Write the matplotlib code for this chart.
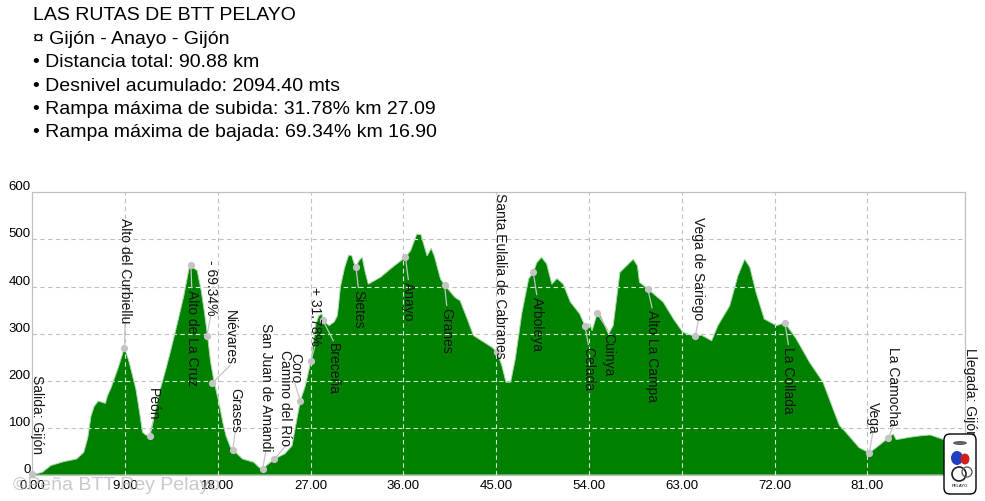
import matplotlib
matplotlib.use("Agg")
import matplotlib.pyplot as plt
from matplotlib.patches import Polygon, FancyBboxPatch, Circle, Ellipse

plt.rcParams['font.family'] = ['Liberation Sans', 'DejaVu Sans']

# ---------------- data ----------------
km = [0.0, 0.5, 1.0, 1.8, 3.0, 4.3, 5.0, 5.4, 5.7, 6.0, 6.4, 7.1, 7.3, 7.65, 8.3, 8.95,
      9.4, 10.06, 10.4, 10.7, 11.0, 11.4, 11.84, 12.4, 12.97, 13.5, 14.1, 14.7, 15.2,
      15.42, 15.6, 16.0, 16.4, 16.7, 17.0, 17.3, 17.65, 18.1, 18.5, 18.8, 19.2, 19.45,
      20.4, 21.5, 22.0, 22.35, 23.0, 23.5, 24.5, 25.2, 25.6, 26.0, 26.5, 27.05, 27.5,
      27.8, 28.1, 28.2, 28.8, 29.3, 29.6, 29.9, 30.3, 30.7, 31.0, 31.2, 31.4, 31.7,
      32.0, 32.3, 32.6, 33.0, 33.8, 35.0, 36.2, 36.7, 37.3, 37.7, 38.3, 38.7, 39.0,
      39.6, 40.0, 41.0, 41.5, 42.2, 42.8, 43.8, 44.6, 45.1, 45.55, 45.95, 46.4, 46.85,
      47.5, 48.15, 48.6, 48.95, 49.4, 49.9, 50.4, 50.9, 51.5, 52.2, 53.1, 53.6, 54.1,
      54.3, 54.8, 55.1, 55.9, 56.35, 57.0, 57.65, 58.3, 58.7, 58.9, 59.7, 60.5, 61.2,
      62.2, 63.1, 64.3, 64.9, 65.9, 66.5, 67.65, 68.45, 69.1, 69.6, 70.2, 71.0, 72.2,
      73.0, 74.1, 75.4, 76.7, 77.8, 78.3, 78.9, 80.2, 81.2, 82.2, 83.0, 83.5, 83.8,
      85.1, 86.1, 87.1, 88.3, 89.0, 89.8, 90.5]
elev = [3, 3, 6, 20, 28, 34, 48, 80, 125, 145, 157, 152, 168, 185, 225, 270,
        240, 182, 135, 91, 85, 83, 126, 180, 225, 270, 324, 380, 437,
        446, 440, 434, 390, 346, 296, 240, 197, 155, 110, 83, 60, 54,
        34, 27, 16, 13, 25, 34, 45, 62, 110, 157, 190, 243, 320,
        338, 342, 328, 317, 325, 338, 400, 440, 467, 465, 450, 441, 455,
        462, 430, 405, 410, 420, 442, 462, 476, 511, 510, 465, 481, 465,
        416, 403, 377, 370, 331, 296, 282, 271, 260, 232, 197, 197, 246,
        345, 416, 430, 451, 462, 448, 405, 417, 405, 367, 342, 317, 320,
        306, 343, 339, 299, 317, 430, 444, 458, 444, 409, 395, 380, 367,
        331, 303, 294, 297, 285, 317, 359, 423, 458, 441, 388, 331, 317,
        323, 289, 239, 197, 133, 105, 91, 58, 47, 64, 78, 87, 75,
        80, 83, 85, 76, 65, 40, 15]

wp_names = ["Salida: Gijón", "Alto del Curbiellu", "Peón", "Alto de La Cruz", "- 69.34%",
            "Niévares", "Grases", "San Juan de Amandi", "Camino del Río", "Coro",
            "+ 31.78%", "Breceña", "Sietes", "Anayo", "Granes",
            "Santa Eulalia de Cabranes", "Arboleya", "Celada", "Cuinya", "Alto La Campa",
            "Vega de Sariego", "La Collada", "Vega", "La Camocha", "Llegada: Gijón"]
wp_km = [0.0, 8.95, 11.4, 15.4, 16.95, 17.45, 19.45, 22.35, 23.5, 26.0,
         27.05, 28.2, 31.4, 36.2, 40.0, 45.1, 48.6, 53.6, 54.8, 59.7,
         64.3, 73.0, 81.2, 83.0, 90.88]
wp_elev = [3, 270, 83, 445, 296, 195, 54, 13, 34, 157,
           243, 328, 441, 462, 403, 260, 430, 317, 343, 395,
           294, 323, 47, 78, 12]

title_lines = ["LAS RUTAS DE BTT PELAYO",
               "¤ Gijón - Anayo - Gijón",
               "• Distancia total: 90.88 km",
               "• Desnivel acumulado: 2094.40 mts",
               "• Rampa máxima de subida: 31.78% km 27.09",
               "• Rampa máxima de bajada: 69.34% km 16.90"]

xticks = [0, 9, 18, 27, 36, 45, 54, 63, 72, 81, 90]
xtick_labels = ["0.00", "9.00", "18.00", "27.00", "36.00", "45.00", "54.00",
                "63.00", "72.00", "81.00", "90.00"]
yticks = [0, 100, 200, 300, 400, 500, 600]
watermark = "©Peña BTT Rey Pelayo"

# ---------------- layout (label placement) ----------------
lab_x = [0.44, 9.0, 11.75, 15.47, 17.31, 19.19, 19.67, 22.65, 24.52, 25.49,
         27.43, 29.2, 31.63, 36.48, 40.2, 45.37, 48.93, 53.94, 55.88, 60.12,
         64.61, 73.34, 81.5, 83.5, 90.96]
lab_top = [214, 547, 187, 395, 458, 352, 187, 325, 267, 261,
           402, 282, 395, 412, 357, 600, 380, 274, 303, 352,
           550, 274, 158, 274, 272]
lab_leader = [False] + [True] * 23 + [False]

# ---------------- figure ----------------
W, H = 985, 502
fig = plt.figure(figsize=(W / 100, H / 100), dpi=100)
ax = fig.add_axes([32.2 / W, 26 / H, (965 - 32.2) / W, (476 - 193.3) / H])
ax.set_xlim(0, 90.47)
ax.set_ylim(0, 600)

green = '#008000'
verts = [(km[0], 0)] + list(zip(km, elev)) + [(km[-1], 0)]
poly = Polygon(verts, closed=True, fc=green, ec='#a8d8a8', lw=0.7, zorder=2)
ax.add_patch(poly)

dash = (0, (4, 3))
for y in yticks[1:-1]:
    ax.axhline(y, color='#c0c0c0', lw=0.8, ls=dash, zorder=1)
    l2 = ax.axhline(y, color='#d8eed8', lw=0.8, ls=dash, zorder=3)
    l2.set_clip_path(poly)
for x in xticks[1:-1]:
    ax.axvline(x, color='#c0c0c0', lw=0.8, ls=dash, zorder=1)
    l2 = ax.axvline(x, color='#d8eed8', lw=0.8, ls=dash, zorder=3)
    l2.set_clip_path(poly)

for s in ax.spines.values():
    s.set_color('#c0c0c0')
    s.set_linewidth(0.9)

ax.set_xticks(xticks)
ax.set_xticklabels(xtick_labels)
ax.set_yticks(yticks)
ax.set_yticklabels([str(v) for v in yticks])
ax.tick_params(length=0, labelsize=9.5, colors='black')
ax.tick_params(axis='x', pad=3)
ax.tick_params(axis='y', pad=1)
for t in ax.get_yticklabels():
    t.set_verticalalignment('bottom')

# waypoints
texts = []
for name, x, y, lx, lt in zip(wp_names, wp_km, wp_elev, lab_x, lab_top):
    if x <= 90.47:
        ax.plot([x], [y], 'o', color='#c4c4c4', ms=5.2, mec='none', zorder=6, clip_on=False)
    t = ax.text(lx, lt, name, rotation=270, ha='center', va='top', fontsize=10,
                color='#141414', zorder=7, clip_on=False)
    texts.append(t)

fig.canvas.draw()
renderer = fig.canvas.get_renderer()
inv = ax.transData.inverted()
for t, x, y, lx, lt, lead in zip(texts, wp_km, wp_elev, lab_x, lab_top, lab_leader):
    if not lead:
        continue
    bb = t.get_window_extent(renderer)
    (_, ybot), (_, ytop) = inv.transform([(bb.x0, bb.y0), (bb.x1, bb.y1)])
    if lt > y:
        end = ybot - 3
    else:
        end = ytop + 3
    ax.plot([x, lx], [y, end], color='#c4c4c4', lw=0.9, zorder=5, clip_on=False)

# header text
base = [20, 44, 67, 91, 114, 137]
for line, b in zip(title_lines, base):
    fig.text(33 / W, 1 - b / H, line, fontsize=14, va='baseline', ha='left', color='black')

# watermark
fig.text(13 / W, 1 - 490 / H, watermark, fontsize=14, color='#b8b8b8', alpha=0.75,
         va='baseline', ha='left', zorder=10)

# logo badge
lax = fig.add_axes([942 / W, 5 / H, 36 / W, 64 / H])
lax.set_xlim(0, 36)
lax.set_ylim(0, 64)
lax.axis('off')
lax.add_patch(FancyBboxPatch((2, 2), 32, 60, boxstyle="round,pad=0,rounding_size=6",
                             fc='white', ec='black', lw=1.0))
lax.add_patch(Ellipse((15, 38), 12, 14, fc='#2040c0', ec='none'))
lax.add_patch(Ellipse((23, 37), 9, 11, fc='#d02020', ec='none'))
lax.add_patch(Circle((17, 22), 7, fc='none', ec='#202020', lw=1.2))
lax.add_patch(Circle((25, 24), 5, fc='none', ec='#606060', lw=1.0))
lax.add_patch(Ellipse((18, 53), 14, 4, fc='#606060', ec='none'))
lax.text(18, 11, "PELAYO", fontsize=3, ha='center', va='center', color='black')

fig.savefig("out.png", dpi=100)
